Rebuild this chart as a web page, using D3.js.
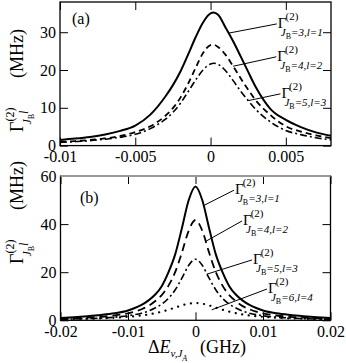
<!DOCTYPE html>
<html>
<head>
<meta charset="utf-8">
<style>
  body { margin: 0; background: #fff; }
  svg text { font-family: "Liberation Serif", "DejaVu Serif", serif !important; fill: #000; }
</style>
</head>
<body>
<script src="https://cdn.jsdelivr.net/npm/d3@7"></script>
<script>
// panel (a) values
var topX = [-0.010,-0.009,-0.008,-0.007,-0.006,-0.005,-0.004,-0.003,-0.0025,-0.002,-0.0015,-0.001,-0.0005,0,0.0002,0.0005,0.001,0.0015,0.002,0.0025,0.003,0.004,0.005,0.006,0.007,0.008];
var topSolid   = [1.5,1.85,2.3,2.95,3.9,5.3,8.2,13.0,16.0,19.6,24.0,28.6,32.6,35.0,35.2,34.6,31.2,27.6,23.6,19.5,15.5,9.6,6.8,4.9,3.5,2.6];
var topDashed  = [1.0,1.2,1.5,1.9,2.55,3.6,5.1,7.9,9.9,12.7,16.3,20.5,24.5,26.6,26.7,26.1,24.0,21.0,17.8,14.8,12.0,8.0,5.1,3.7,2.7,2.0];
var topDashDot = [0.85,1.05,1.3,1.7,2.2,3.0,4.5,7.0,8.8,11.2,14.2,17.3,20.0,21.6,21.8,21.5,19.8,17.2,14.4,11.9,9.6,6.2,4.0,2.9,2.1,1.5];

// panel (b) values
var botX = [-0.02,-0.018,-0.016,-0.014,-0.012,-0.01,-0.009,-0.008,-0.007,-0.006,-0.005,-0.004,-0.003,-0.002,-0.001,0,0.001,0.002,0.003,0.004,0.005,0.006,0.007,0.008,0.009,0.01,0.012,0.014,0.016,0.018,0.02];
var botSolid   = [1.0,1.3,1.7,2.2,2.9,4.1,5.1,6.4,8.2,10.6,14.2,20.0,27.5,38.5,50.0,55.6,50.0,38.5,27.5,20.0,14.2,10.6,8.2,6.4,5.1,4.1,2.9,2.2,1.7,1.3,1.0];
var botDashed  = [0.65,0.85,1.1,1.45,2.0,2.9,3.6,4.6,5.9,7.9,10.5,14.4,20.1,28.3,37.3,41.7,37.3,28.3,20.1,14.4,10.5,7.9,5.9,4.6,3.6,2.9,2.0,1.45,1.1,0.85,0.65];
var botDashDot = [0.45,0.55,0.7,0.95,1.3,1.9,2.35,2.95,3.8,5.08,6.72,9.14,12.7,17.6,22.9,25.4,22.9,17.6,12.7,9.14,6.72,5.08,3.8,2.95,2.35,1.9,1.3,0.95,0.7,0.55,0.45];
var botDotted  = [0.42,0.52,0.64,0.81,1.07,1.44,1.70,2.02,2.43,2.95,3.6,4.39,5.29,6.21,6.92,7.2,6.92,6.21,5.29,4.39,3.6,2.95,2.43,2.02,1.70,1.44,1.07,0.81,0.64,0.52,0.42];

// ticks
var topXTicks = [-0.01,-0.005,0,0.005];
var topYTicks = [0,10,20,30];
var botXTicks = [-0.02,-0.01,0,0.01,0.02];
var botYTicks = [0,20,40,60];

// curve labels: J_B and l
var topJB = [3,4,5], topL = [1,2,3];
var botJB = [3,4,5,6], botL = [1,2,3,4];

var W = 346, H = 363;
var FONT = "Liberation Serif, DejaVu Serif, serif";
var svg = d3.select("body").append("svg").attr("width", W).attr("height", H)
  .attr("font-family", FONT);

var styles = [
  {width: 2, dash: null},
  {width: 1.8, dash: "6,4"},
  {width: 1.6, dash: "7,3,2,3"},
  {width: 2.2, dash: "0.1,6.5", cap: "round"}
];

function fmt(d) { return d === 0 ? "0" : String(d); }

function interp(xs, ys, x) {
  for (var i = 1; i < xs.length; i++) {
    if (x <= xs[i]) {
      var t = (x - xs[i-1]) / (xs[i] - xs[i-1]);
      return ys[i-1] + t * (ys[i] - ys[i-1]);
    }
  }
  return ys[ys.length-1];
}

// Γ^(2)_{J_B=..,l=..} as one text
function gammaLabel(g, px, py, jb, l) {
  var t = g.append("text").attr("x", px).attr("y", py).attr("font-size", 15).attr("font-family", FONT);
  t.append("tspan").text("Γ");
  t.append("tspan").attr("dx", -1).attr("dy", -8).attr("font-size", 11).text("(2)");
  t.append("tspan").attr("dx", -17.5).attr("dy", 16).attr("font-size", 11).attr("font-style", "italic").text("J");
  t.append("tspan").attr("dy", 3).attr("font-size", 8).text("B");
  t.append("tspan").attr("dy", -3).attr("font-size", 11).attr("font-style", "italic").text("=" + jb + ",l=" + l);
}

function panel(opt) {
  var x = d3.scaleLinear().domain(opt.xDomain).range([opt.left, opt.right]);
  var y = d3.scaleLinear().domain(opt.yDomain).range([opt.bottom, opt.top]);
  var g = svg.append("g");
  var id = "clip" + opt.name;
  g.append("clipPath").attr("id", id).append("rect")
    .attr("x", opt.left).attr("y", opt.top)
    .attr("width", opt.right - opt.left).attr("height", opt.bottom - opt.top);

  var line = d3.line().curve(d3.curveMonotoneX)
    .x(function(d) { return x(d[0]); })
    .y(function(d) { return y(d[1]); });

  opt.series.forEach(function(ys, i) {
    var st = styles[i];
    g.append("path")
      .attr("clip-path", "url(#" + id + ")")
      .attr("d", line(opt.xs.map(function(v, k) { return [v, ys[k]]; })))
      .attr("fill", "none").attr("stroke", "#000")
      .attr("stroke-width", st.width)
      .attr("stroke-dasharray", i == 1 ? opt.dash : st.dash)
      .attr("stroke-linecap", st.cap || "butt");
  });

  // axes, ticks pointing inside
  g.append("g").attr("transform", "translate(0," + opt.bottom + ")")
    .call(d3.axisBottom(x).tickValues(opt.xTicks).tickFormat(fmt).tickSize(-8).tickSizeOuter(0).tickPadding(5));
  g.append("g").attr("transform", "translate(0," + opt.top + ")")
    .call(d3.axisTop(x).tickValues(opt.xTicks).tickFormat("").tickSize(-8).tickSizeOuter(0));
  g.append("g").attr("transform", "translate(" + opt.left + ",0)")
    .call(d3.axisLeft(y).tickValues(opt.yTicks).tickFormat(fmt).tickSize(-8).tickSizeOuter(0).tickPadding(4));
  g.append("g").attr("transform", "translate(" + opt.right + ",0)")
    .call(d3.axisRight(y).tickValues(opt.yTicks).tickFormat("").tickSize(-8).tickSizeOuter(0));
  g.selectAll(".domain").remove();
  g.selectAll("g").attr("font-family", FONT);
  g.selectAll(".tick line").attr("stroke", "#000").attr("stroke-width", 1);
  g.selectAll(".tick text").attr("font-size", 16).attr("font-family", FONT);

  // frame
  g.append("rect").attr("x", opt.left).attr("y", opt.top)
    .attr("width", opt.right - opt.left).attr("height", opt.bottom - opt.top)
    .attr("fill", "none").attr("stroke", "#000").attr("stroke-width", 1.3);
  if (opt.grayTop) {
    g.append("line").attr("x1", opt.left).attr("x2", opt.right)
      .attr("y1", opt.top).attr("y2", opt.top)
      .attr("stroke", "#999").attr("stroke-width", 2.2);
  }

  g.append("text").attr("x", opt.tagX).attr("y", opt.tagY).attr("font-size", 16).text(opt.tag);

  // labels with leader lines
  opt.anno.forEach(function(a, i) {
    var sx = x(a.from), sy = y(interp(opt.xs, opt.series[i], a.from) + (a.dy || 0));
    var ex = x(a.to[0]), ey = y(a.to[1]);
    g.append("line").attr("x1", sx).attr("y1", sy).attr("x2", ex).attr("y2", ey)
      .attr("stroke", "#000").attr("stroke-width", 1);
    gammaLabel(g, ex + 1, ey + 4, opt.jb[i], opt.l[i]);
  });

  // y axis title
  var yl = g.append("text").attr("transform", "translate(23," + opt.ylabY + ") rotate(-90)")
    .attr("font-size", 18);
  yl.append("tspan").text("Γ");
  yl.append("tspan").attr("dy", -9).attr("font-size", 12).text("(2)");
  yl.append("tspan").attr("dx", -17).attr("dy", 17).attr("font-size", 12).attr("font-style", "italic").text("J");
  yl.append("tspan").attr("dy", 3).attr("font-size", 8).text("B");
  yl.append("tspan").attr("dy", -6).attr("font-size", 12).attr("font-style", "italic").text("l");
  yl.append("tspan").attr("x", 54).attr("y", 0).text("(MHz)");
}

panel({
  name: "a", tag: "(a)", tagX: 72, tagY: 24,
  xDomain: [-0.01, 0.008], yDomain: [0, 38],
  left: 60, right: 331, top: 2, bottom: 145.6,
  xs: topX, series: [topSolid, topDashed, topDashDot],
  dash: "6,4",
  xTicks: topXTicks, yTicks: topYTicks,
  jb: topJB, l: topL,
  anno: [
    {from: 0.0012, to: [0.0044, 32.2]},
    {from: 0.0015, to: [0.00437, 23.5]},
    {from: 0.0025, to: [0.00464, 13.7]}
  ],
  ylabY: 132
});

panel({
  name: "b", tag: "(b)", tagX: 80, tagY: 203,
  xDomain: [-0.02, 0.02], yDomain: [0, 60],
  left: 60.5, right: 330.5, top: 176, bottom: 320.3,
  xs: botX, series: [botSolid, botDashed, botDashDot, botDotted],
  dash: "8,5", grayTop: true,
  xTicks: botXTicks, yTicks: botYTicks,
  jb: botJB, l: botL,
  anno: [
    {from: 0.0012, to: [0.0057, 54.1]},
    {from: 0.0015, to: [0.00689, 41.3]},
    {from: 0.0017, to: [0.00837, 25.1]},
    {from: 0.0024, to: [0.01059, 13.0], dy: -1.5}
  ],
  ylabY: 264
});

// x axis title
var xt = svg.append("text").attr("x", 148).attr("y", 353).attr("font-size", 18);
xt.append("tspan").text("Δ");
xt.append("tspan").attr("font-style", "italic").text("E");
xt.append("tspan").attr("dy", 4).attr("font-size", 11).attr("font-style", "italic").text("v,J");
xt.append("tspan").attr("dy", 4).attr("font-size", 8).attr("font-style", "italic").text("A");
xt.append("tspan").attr("x", 200).attr("dy", -8).text("(GHz)");
</script>
</body>
</html>
